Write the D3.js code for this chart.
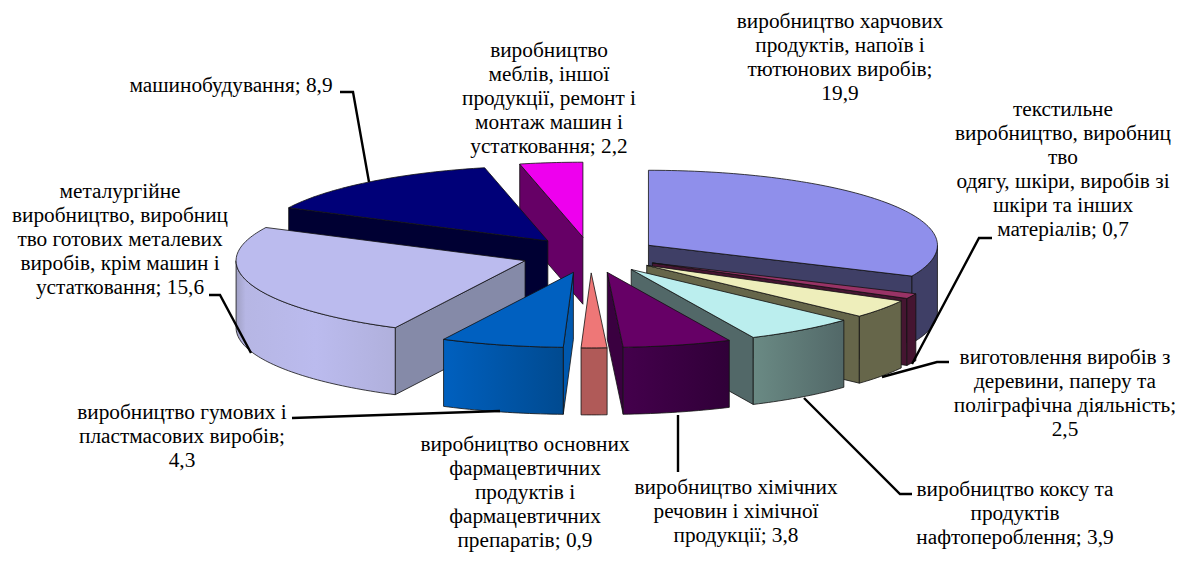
<!DOCTYPE html>
<html><head><meta charset="utf-8">
<script src="https://cdn.jsdelivr.net/npm/d3@7"></script>
<style>html,body{margin:0;background:#fff}svg{display:block}text{font-family:"Liberation Serif",serif;font-size:21.3px;fill:#000}</style>
</head><body><svg id="c" width="1179" height="574"></svg>
<script>
const categories=["виробництво харчових продуктів","текстильне","деревина","кокс","хімічні","фармацевтичні","гумові","металургійне","машинобудування","меблі"];
const values=[19.9,0.7,2.5,3.9,3.8,0.9,4.3,15.6,8.9,2.2];
const topColors=["#8F8FEB","#993366","#EEEEBB","#BBEEEE","#660066","#EE7777","#0060C0","#BBBBEE","#000078","#EE00EE"];
const sideColors=["#3F3F66","#451531","#66664A","#526868","#3A0040","#B05A58","#0058AE","#858AA8","#000033","#660066"];
const wallStart=["#3F3F66","#451531","#66664A","#6A8A84","#44004C","#B05A58","#0060BF","#A0A0C4","#000033","#660066"];
const wallEnd=["#3F3F66","#451531","#66664A","#526868","#300038","#B05A58","#004A90","#B0B0DC","#000033","#660066"];
const drawOrder=[9,8,0,7,1,2,3,4,6,5];
const labelLines=[
["виробництво харчових","продуктів, напоїв і","тютюнових виробів;","19,9"],
["текстильне","виробництво, виробниц","тво","одягу, шкіри, виробів зі","шкіри та інших","матеріалів; 0,7"],
["виготовлення виробів з","деревини, паперу та","поліграфічна діяльність;","2,5"],
["виробництво коксу та","продуктів","нафтопероблення; 3,9"],
["виробництво хімічних","речовин і хімічної","продукції; 3,8"],
["виробництво основних","фармацевтичних","продуктів і","фармацевтичних","препаратів; 0,9"],
["виробництво гумових і","пластмасових виробів;","4,3"],
["металургійне","виробництво, виробниц","тво готових металевих","виробів, крім машин і","устатковання; 15,6"],
["машинобудування; 8,9"],
["виробництво","меблів, іншої","продукції, ремонт і","монтаж машин і","устатковання; 2,2"]];
const labelCx=[840,1063,1065,1015,736,525,182,120,231,549];
const labelY=[28,116,364,496,494,451,419,198,92,57];
const leaders=[null,
[[992,238],[979,238],[912,364]],
[[949,362],[937,362],[882,377]],
[[912,494],[900,494],[804,398]],
[[678,415],[678,472]],
null,
[[292,418],[500,411]],
[[209,295],[220,295],[251,353]],
[[340,92],[353,92],[369,182]],
null];

const svg=d3.select("#c"), defs=svg.append("defs");
const cx=590.5, cy=255, rx=289, ry=75, explode=69, depth=67;
const arcs=d3.pie().sort(null).value(d=>d)(values);
const xS=d3.scaleLinear().domain([-1,1]).range([-rx,rx]);
const yS=d3.scaleLinear().domain([-1,1]).range([ry,-ry]);
const pt=(o,a,dy=0)=>[o[0]+xS(Math.sin(a)),o[1]+yS(Math.cos(a))+dy];
const line=d3.line();
const stroke="#111", sw=0.8;
function arcPts(o,a0,a1,dy=0){const n=Math.max(2,Math.ceil((a1-a0)/0.02));return d3.range(n+1).map(i=>pt(o,a0+(a1-a0)*i/n,dy));}
const g=svg.append("g");
drawOrder.forEach(i=>{
  const a=arcs[i],a0=a.startAngle,a1=a.endAngle,mid=(a0+a1)/2;
  const o=[cx+xS(Math.sin(mid))*explode/rx,cy+yS(Math.cos(mid))*explode/rx];
  const grp=g.append("g").attr("data-cat",categories[i]);
  const poly=(p,f)=>grp.append("path").attr("d",line(p)+"Z").attr("fill",f).attr("stroke",stroke).attr("stroke-width",sw).attr("stroke-linejoin","round");
  const wall=ang=>{const e=pt(o,ang);poly([o,e,[e[0],e[1]+depth],[o[0],o[1]+depth]],sideColors[i]);};
  if(a0>Math.PI) wall(a0);
  if(a1<Math.PI) wall(a1);
  const w0=Math.max(a0,Math.PI/2),w1=Math.min(a1,Math.PI*1.5);
  if(w1>w0){
    const gid="w"+i;
    const lg=defs.append("linearGradient").attr("id",gid).attr("gradientUnits","userSpaceOnUse")
      .attr("x1",pt(o,w1)[0]).attr("x2",pt(o,w0)[0]).attr("y1",0).attr("y2",0);
    lg.append("stop").attr("offset",0).attr("stop-color",wallStart[i]);
    if(i===7){
      lg.append("stop").attr("offset",0.06).attr("stop-color","#B6B6E4");
      lg.append("stop").attr("offset",0.5).attr("stop-color","#BBBBEE");
    }
    lg.append("stop").attr("offset",1).attr("stop-color",wallEnd[i]);
    poly(arcPts(o,w0,w1).concat(arcPts(o,w0,w1,depth).reverse()),`url(#${gid})`);
  }
  poly([o].concat(arcPts(o,a0,a1)),topColors[i]);
});
svg.append("g").selectAll("path").data(leaders.filter(Boolean)).join("path")
  .attr("d",d=>line(d)).attr("fill","none").attr("stroke","#000").attr("stroke-width",2.4);
labelLines.forEach((ls,i)=>{
  const t=svg.append("text").attr("text-anchor","middle");
  ls.forEach((s,j)=>t.append("tspan").attr("x",labelCx[i]).attr("y",labelY[i]+j*24).text(s));
});
</script></body></html>
